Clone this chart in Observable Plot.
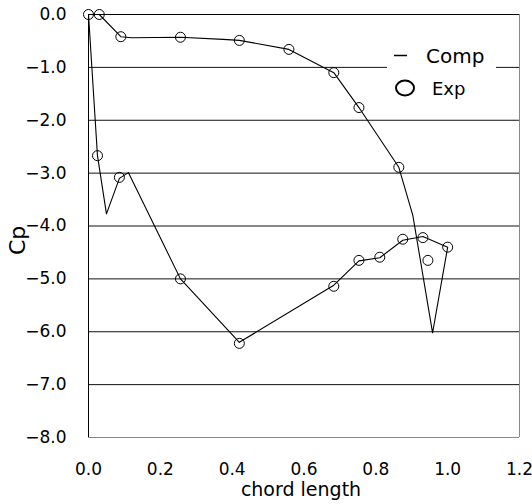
<!DOCTYPE html>
<html>
<head>
<meta charset="utf-8">
<script src="https://cdn.jsdelivr.net/npm/d3@7"></script>
<script src="https://cdn.jsdelivr.net/npm/@observablehq/plot@0.6"></script>
<style>
  html, body { margin: 0; padding: 0; background: #fff; }
  #wrap { position: relative; width: 532px; height: 504px; }
  #legend { position: absolute; left: 387px; top: 40px; width: 109px; height: 62px; background: transparent; }
  #legend svg { overflow: visible; }
</style>
</head>
<body>
<div id="wrap"></div>
<script>
// Computed Cp distribution (single path around the airfoil: upper side LE->TE, lower side TE->LE)
const compX  = [0, 0.03, 0.09, 0.12, 0.256, 0.375, 0.42, 0.558, 0.683, 0.753, 0.864, 0.903, 0.958, 1.0, 0.931, 0.875, 0.811, 0.753, 0.683, 0.42, 0.256, 0.111, 0.086, 0.05, 0.025, 0];
const compCp = [0, 0, -0.42, -0.44, -0.43, -0.47, -0.49, -0.66, -1.1, -1.76, -2.89, -3.8, -6.02, -4.4, -4.2, -4.27, -4.6, -4.66, -5.12, -6.2, -5.0, -2.99, -3.1, -3.77, -2.67, 0];

// Experimental points
const expUpperX  = [0, 0.03, 0.09, 0.256, 0.42, 0.558, 0.683, 0.753, 0.864, 0.931, 0.945];
const expUpperCp = [0, 0, -0.42, -0.43, -0.49, -0.66, -1.1, -1.76, -2.89, -4.22, -4.65];
const expLowerX  = [0.025, 0.086, 0.256, 0.42, 0.683, 0.753, 0.811, 0.875, 1.0];
const expLowerCp = [-2.67, -3.08, -5.0, -6.22, -5.14, -4.65, -4.59, -4.25, -4.4];

const xTicks = [0, 0.2, 0.4, 0.6, 0.8, 1.0, 1.2];
const yTicks = [0, -1, -2, -3, -4, -5, -6, -7, -8];
const gridLines = [-1, -2, -3, -4, -5, -6, -7];

const comp = compX.map((x, i) => ({x, cp: compCp[i]}));
const exp = expUpperX.map((x, i) => ({x, cp: expUpperCp[i]}))
  .concat(expLowerX.map((x, i) => ({x, cp: expLowerCp[i]})));

const fmt = d3.format(".1f");

const chart = Plot.plot({
  width: 532,
  height: 504,
  marginLeft: 88,
  marginRight: 13,
  marginTop: 14,
  marginBottom: 67,
  style: {fontFamily: "DejaVu Sans", fontSize: "16px", color: "#000", background: "#fff"},
  x: {domain: [0, 1.2]},
  y: {domain: [-8, 0]},
  marks: [
    Plot.ruleY(gridLines, {stroke: "#111", strokeWidth: 1}),
    Plot.ruleY([-8], {stroke: "#888"}),
    Plot.ruleX([1.2], {stroke: "#888"}),
    Plot.ruleY([0], {stroke: "#000"}),
    Plot.ruleX([0], {stroke: "#000"}),
    Plot.axisX({ticks: xTicks, tickFormat: fmt, tickSize: 0, tickPadding: 25, label: null, fontSize: 17}),
    Plot.axisY({ticks: yTicks, tickFormat: fmt, tickSize: 0, tickPadding: 22, label: null, fontSize: 17}),
    Plot.line(comp, {x: "x", y: "cp", stroke: "#000", strokeWidth: 1.1, curve: "linear"}),
    Plot.dot(exp, {x: "x", y: "cp", r: 5, stroke: "#000", fill: "none", strokeWidth: 1}),
    Plot.text(["chord length"], {frameAnchor: "bottom", dx: -3, dy: 52, fontSize: 19, lineAnchor: "middle"}),
    Plot.text(["Cp"], {frameAnchor: "left", rotate: -90, dx: -71, dy: 29, fontSize: 22})
  ]
});

const wrap = document.getElementById("wrap");
wrap.appendChild(chart);

// white patch behind the legend (breaks the −1.0 gridline as in the reference)
const patch = document.createElement("div");
patch.style.cssText = "position:absolute;left:387px;top:40px;width:109px;height:56px;background:#fff;";
wrap.appendChild(patch);

const legend = document.createElement("div");
legend.id = "legend";
legend.innerHTML = `
<svg width="109" height="62" style="font-family:'DejaVu Sans';">
  <line x1="7" x2="20" y1="15.5" y2="15.5" stroke="#000" stroke-width="1.5"></line>
  <text x="39" y="23" font-size="20" fill="#000">Comp</text>
  <ellipse cx="18" cy="48" rx="9" ry="7.5" fill="none" stroke="#000" stroke-width="2"></ellipse>
  <text x="45" y="55" font-size="18" fill="#000">Exp</text>
</svg>`;
wrap.appendChild(legend);
</script>
</body>
</html>
